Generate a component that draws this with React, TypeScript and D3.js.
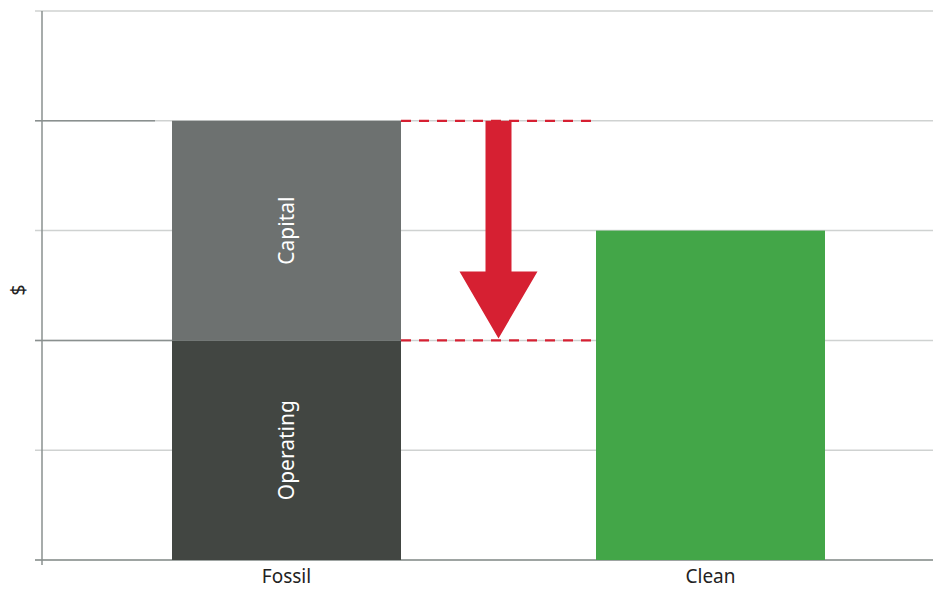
import React from "react";
import * as d3 from "d3";

const categories = ["Fossil", "Clean"];
const operating = [2, 0];
const capital = [2, 0];
const clean = [0, 3];
const yTicks = [0, 1, 2, 3, 4, 5];
const segmentLabels = ["Operating", "Capital"];

const W = 934;
const H = 590;

export default function App() {
  const y = d3.scaleLinear().domain([0, 5]).range([560, 11]);
  const barW = 229;
  const xc = d3.scalePoint().domain(categories).range([286.5, 710.5]);
  const font = "'Noto Sans', 'Open Sans', sans-serif";
  const red = "#d62032";

  const fx = xc("Fossil")! - barW / 2;
  const cx = xc("Clean")! - barW / 2;
  const fTop = y(operating[0] + capital[0]);
  const fMid = y(operating[0]);
  const arrowX = (fx + barW + cx) / 2;
  const shaftW = 26;
  const headW = 78;
  const headH = 69;
  const arrowPath = d3.path();
  arrowPath.moveTo(arrowX - shaftW / 2, fTop);
  arrowPath.lineTo(arrowX + shaftW / 2, fTop);
  arrowPath.lineTo(arrowX + shaftW / 2, fMid - headH);
  arrowPath.lineTo(arrowX + headW / 2, fMid - headH);
  arrowPath.lineTo(arrowX, fMid - 2);
  arrowPath.lineTo(arrowX - headW / 2, fMid - headH);
  arrowPath.lineTo(arrowX - shaftW / 2, fMid - headH);
  arrowPath.closePath();

  return (
    <svg width={W} height={H} style={{ position: "absolute", left: 0, top: 0, background: "#fff" }}>
      {yTicks.map((t) => (
        <line key={t} x1={35} x2={933} y1={y(t)} y2={y(t)} stroke="#cfd2d1" strokeWidth={1.5} />
      ))}
      {[fTop, fMid].map((v, i) => (
        <line key={i} x1={35} x2={i === 0 ? 155 : fx} y1={v} y2={v} stroke="#8a908f" strokeWidth={1.5} />
      ))}
      <line x1={42} x2={42} y1={y(5)} y2={565} stroke="#8a908f" strokeWidth={1.5} />
      <line x1={35} x2={933} y1={y(0)} y2={y(0)} stroke="#8a908f" strokeWidth={1.5} />

      <rect x={fx} y={fMid} width={barW} height={y(0) - fMid} fill="#424642" />
      <rect x={fx} y={fTop} width={barW} height={fMid - fTop} fill="#6d7170" />
      <rect x={cx} y={y(clean[1])} width={barW} height={y(0) - y(clean[1])} fill="#43a648" />

      <text
        transform={`translate(${xc("Fossil")! + 7},${(fMid + y(0)) / 2}) rotate(-90)`}
        textAnchor="middle"
        fill="#fff"
        fontFamily={font}
        fontSize={21}
      >
        {segmentLabels[0]}
      </text>
      <text
        transform={`translate(${xc("Fossil")! + 7},${(fTop + fMid) / 2}) rotate(-90)`}
        textAnchor="middle"
        fill="#fff"
        fontFamily={font}
        fontSize={21}
      >
        {segmentLabels[1]}
      </text>

      {[fTop, fMid].map((v, i) => (
        <line key={i} x1={fx + barW} x2={cx} y1={v} y2={v} stroke={red} strokeWidth={2.2} strokeDasharray="10,8" />
      ))}
      <path d={arrowPath.toString()} fill={red} />

      {categories.map((c) => (
        <text key={c} x={xc(c)!} y={583} textAnchor="middle" fill="#222" fontFamily={font} fontSize={19}>
          {c}
        </text>
      ))}
      <text transform={`translate(25,290) rotate(-90)`} textAnchor="middle" fill="#222" fontFamily={font} fontSize={20}>
        $
      </text>
    </svg>
  );
}
